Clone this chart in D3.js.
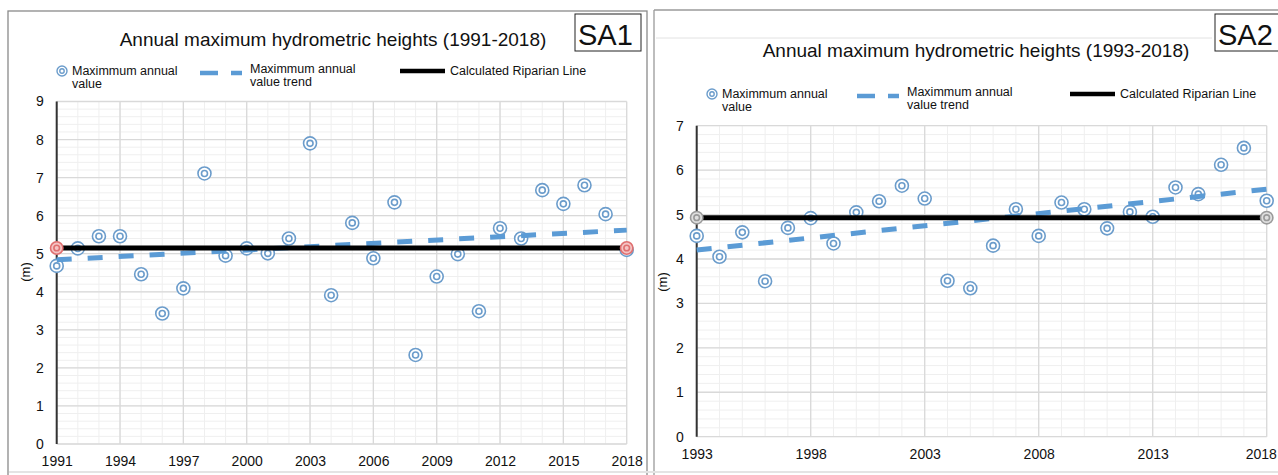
<!DOCTYPE html>
<html>
<head>
<meta charset="utf-8">
<script src="https://cdn.jsdelivr.net/npm/d3@7/dist/d3.min.js"></script>
<style>
  body { margin: 0; background: #fff; }
  text { font-family: "Liberation Sans", Arial, sans-serif; fill: #111; }
</style>
</head>
<body>
<svg id="chart" width="1278" height="475"></svg>
<script>
// SA1 station
const yearsSA1 = [1991, 1992, 1993, 1994, 1995, 1996, 1997, 1998, 1999, 2000,
  2001, 2002, 2003, 2004, 2005, 2006, 2007, 2008, 2009, 2010,
  2011, 2012, 2013, 2014, 2015, 2016, 2017, 2018];
const valuesSA1 = [4.68, 5.14, 5.46, 5.46, 4.46, 3.43, 4.09, 7.11, 4.95, 5.14,
  5.01, 5.40, 7.90, 3.91, 5.81, 4.88, 6.35, 2.34, 4.40, 4.99,
  3.49, 5.67, 5.40, 6.67, 6.31, 6.80, 6.04, 5.10];
const trendSA1 = [4.84, 5.62]; // 1991, 2018
const riparianSA1 = 5.15;
const xTicksSA1 = [1991, 1994, 1997, 2000, 2003, 2006, 2009, 2012, 2015, 2018];
const yTicksSA1 = [0, 1, 2, 3, 4, 5, 6, 7, 8, 9];

// SA2 station
const yearsSA2 = [1993, 1994, 1995, 1996, 1997, 1998, 1999, 2000, 2001, 2002,
  2003, 2004, 2005, 2006, 2007, 2008, 2009, 2010, 2011, 2012,
  2013, 2014, 2015, 2016, 2017, 2018];
const valuesSA2 = [4.52, 4.05, 4.60, 3.50, 4.70, 4.92, 4.35, 5.05, 5.30, 5.65,
  5.36, 3.51, 3.34, 4.30, 5.12, 4.52, 5.27, 5.12, 4.69, 5.06,
  4.95, 5.61, 5.46, 6.12, 6.50, 5.31];
const trendSA2 = [4.20, 5.57]; // 1993, 2018
const riparianSA2 = 4.93;
const xTicksSA2 = [1993, 1998, 2003, 2008, 2013, 2018];
const yTicksSA2 = [0, 1, 2, 3, 4, 5, 6, 7];

const markerColor = "#6b9ccb";
const trendColor = "#5b9bd5";

const svg = d3.select("#chart");

// panel frames
svg.append("rect").attr("x", 8).attr("y", 11).attr("width", 639).attr("height", 480)
  .attr("fill", "none").attr("stroke", "#8a8a8a").attr("stroke-width", 1.3);
svg.append("line").attr("x1", 654).attr("x2", 1278).attr("y1", 10).attr("y2", 10)
  .attr("stroke", "#9a9a9a").attr("stroke-width", 1.3);
svg.append("line").attr("x1", 654).attr("x2", 654).attr("y1", 10).attr("y2", 475)
  .attr("stroke", "#9a9a9a").attr("stroke-width", 1.3);
svg.append("line").attr("x1", 656).attr("x2", 1212).attr("y1", 38).attr("y2", 38)
  .attr("stroke", "#e2e2e2");
svg.append("line").attr("x1", 9).attr("x2", 1278).attr("y1", 472).attr("y2", 472)
  .attr("stroke", "#e4e4e4").attr("stroke-width", 2);

function drawPanel(p) {
  const x = d3.scaleLinear().domain(p.xDomain).range([p.left, p.right]);
  const y = d3.scaleLinear().domain(p.yDomain).range([p.bottom, p.top]);
  const g = svg.append("g");

  // minor grid
  g.selectAll(".vmin").data(d3.range(p.xDomain[0], p.xDomain[1] + 1))
    .enter().append("line")
    .attr("x1", d => x(d)).attr("x2", d => x(d))
    .attr("y1", p.top).attr("y2", p.bottom)
    .attr("stroke", "#efefef").attr("stroke-width", 1);
  g.selectAll(".hmin").data(d3.range(0, p.yDomain[1] * 5 + 1).map(d => d / 5))
    .enter().append("line")
    .attr("x1", p.left).attr("x2", p.right)
    .attr("y1", d => y(d)).attr("y2", d => y(d))
    .attr("stroke", "#efefef").attr("stroke-width", 1);

  // major grid
  g.selectAll(".vmaj").data(p.xTicks)
    .enter().append("line")
    .attr("x1", d => x(d)).attr("x2", d => x(d))
    .attr("y1", p.top).attr("y2", p.bottom)
    .attr("stroke", "#d9d9d9").attr("stroke-width", 1.3);
  g.selectAll(".hmaj").data(p.yTicks)
    .enter().append("line")
    .attr("x1", p.left).attr("x2", p.right)
    .attr("y1", d => y(d)).attr("y2", d => y(d))
    .attr("stroke", "#d9d9d9").attr("stroke-width", 1.3);

  // axes labels
  const xAxis = d3.axisBottom(x).tickValues(p.xTicks).tickSize(0).tickPadding(12).tickFormat(d3.format("d"));
  const xg = g.append("g").attr("transform", "translate(0," + p.bottom + ")").call(xAxis);
  xg.select(".domain").remove();
  xg.selectAll("text").style("font-size", "14px").attr("fill", "#111");
  // keep the last year label inside the window
  xg.selectAll("text").each(function() {
    const b = this.getBoundingClientRect();
    if (b.right > 1277) d3.select(this).attr("dx", (1277 - b.right) + "px");
  });

  const yAxis = d3.axisLeft(y).tickValues(p.yTicks).tickSize(0).tickPadding(13).tickFormat(d3.format("d"));
  const yg = g.append("g").attr("transform", "translate(" + p.left + ",0)").call(yAxis);
  yg.select(".domain").remove();
  yg.selectAll("text").style("font-size", "14px").attr("fill", "#111");

  g.append("line").attr("x1", p.left).attr("x2", p.left)
    .attr("y1", p.top).attr("y2", p.bottom)
    .attr("stroke", "#333").attr("stroke-width", 2);

  g.append("text")
    .attr("transform", "translate(" + p.unitX + "," + p.unitY + ") rotate(-90)")
    .attr("text-anchor", "middle").style("font-size", "13px").text("(m)");

  // markers
  const pts = g.selectAll(".pt").data(p.years.map((yr, i) => [yr, p.values[i]]))
    .enter().append("g")
    .attr("transform", d => "translate(" + x(d[0]) + "," + y(d[1]) + ")");
  pts.append("circle").attr("r", 6.5).attr("fill", "#fff")
    .attr("stroke", markerColor).attr("stroke-width", 1.6);
  pts.append("circle").attr("r", 3).attr("fill", "none")
    .attr("stroke", markerColor).attr("stroke-width", 1.6);

  // trend
  g.append("line")
    .attr("x1", x(p.xDomain[0])).attr("x2", x(p.xDomain[1]))
    .attr("y1", y(p.trend[0])).attr("y2", y(p.trend[1]))
    .attr("stroke", trendColor).attr("stroke-width", 5)
    .attr("stroke-dasharray", "15,16");

  // riparian line
  g.append("line")
    .attr("x1", x(p.xDomain[0])).attr("x2", x(p.xDomain[1]))
    .attr("y1", y(p.riparian)).attr("y2", y(p.riparian))
    .attr("stroke", "#000").attr("stroke-width", 5);

  const ends = g.selectAll(".end").data(p.xDomain).enter().append("g")
    .attr("transform", d => "translate(" + x(d) + "," + y(p.riparian) + ")");
  ends.append("circle").attr("r", 6.2).attr("fill", p.endFill)
    .attr("stroke", p.endColor).attr("stroke-width", 1.6);
  ends.append("circle").attr("r", 2.8).attr("fill", "none")
    .attr("stroke", p.endColor).attr("stroke-width", 1.6);

  // title
  g.append("text").attr("x", p.titleX).attr("y", p.titleY)
    .attr("text-anchor", "middle").style("font-size", "19px").text(p.title);

  // station box
  g.append("rect").attr("x", p.boxX).attr("y", 14).attr("width", 66).attr("height", 37)
    .attr("fill", "#fff").attr("stroke", "#222").attr("stroke-width", 1);
  g.append("text").attr("x", p.boxX + 3).attr("y", 45)
    .style("font-size", "29px").text(p.station);

  // legend
  const L = p.legend;
  const lm = g.append("g").attr("transform", "translate(" + L.mx + "," + L.y + ")");
  lm.append("circle").attr("r", 5).attr("fill", "#fff").attr("stroke", markerColor).attr("stroke-width", 1.4);
  lm.append("circle").attr("r", 2.2).attr("fill", "none").attr("stroke", markerColor).attr("stroke-width", 1.4);
  const t1 = g.append("text").attr("x", L.mx + 10).attr("y", L.y + 4).style("font-size", "12.5px");
  t1.append("tspan").text("Maximmum annual");
  t1.append("tspan").attr("x", L.mx + 10).attr("dy", 13).text("value");

  g.append("line").attr("x1", L.dx).attr("x2", L.dx + 42).attr("y1", L.y + 2).attr("y2", L.y + 2)
    .attr("stroke", trendColor).attr("stroke-width", 4.5).attr("stroke-dasharray", "18,13");
  const t2 = g.append("text").attr("x", L.dx + 50).attr("y", L.y + 2).style("font-size", "12.5px");
  t2.append("tspan").text("Maximmum annual");
  t2.append("tspan").attr("x", L.dx + 50).attr("dy", 13).text("value trend");

  g.append("line").attr("x1", L.bx).attr("x2", L.bx + 45).attr("y1", L.y).attr("y2", L.y)
    .attr("stroke", "#000").attr("stroke-width", 4.5);
  g.append("text").attr("x", L.bx + 50).attr("y", L.y + 4).style("font-size", "12.5px")
    .text("Calculated Riparian Line");
}

drawPanel({
  station: "SA1", title: "Annual maximum hydrometric heights (1991-2018)",
  years: yearsSA1, values: valuesSA1, trend: trendSA1, riparian: riparianSA1,
  xTicks: xTicksSA1, yTicks: yTicksSA1,
  xDomain: [1991, 2018], yDomain: [0, 9],
  left: 56.7, right: 626.7, top: 101.5, bottom: 444,
  unitX: 30, unitY: 272, titleX: 333, titleY: 46, boxX: 575,
  endColor: "#e07070", endFill: "#f4c4c4",
  legend: { y: 71, mx: 62, dx: 200, bx: 400 }
});

drawPanel({
  station: "SA2", title: "Annual maximum hydrometric heights (1993-2018)",
  years: yearsSA2, values: valuesSA2, trend: trendSA2, riparian: riparianSA2,
  xTicks: xTicksSA2, yTicks: yTicksSA2,
  xDomain: [1993, 2018], yDomain: [0, 7],
  left: 696.7, right: 1266.7, top: 125.7, bottom: 436.7,
  unitX: 667, unitY: 282, titleX: 976, titleY: 57, boxX: 1215,
  endColor: "#9a9a9a", endFill: "#e0e0e0",
  legend: { y: 94, mx: 712, dx: 857, bx: 1070 }
});
</script>
</body>
</html>
